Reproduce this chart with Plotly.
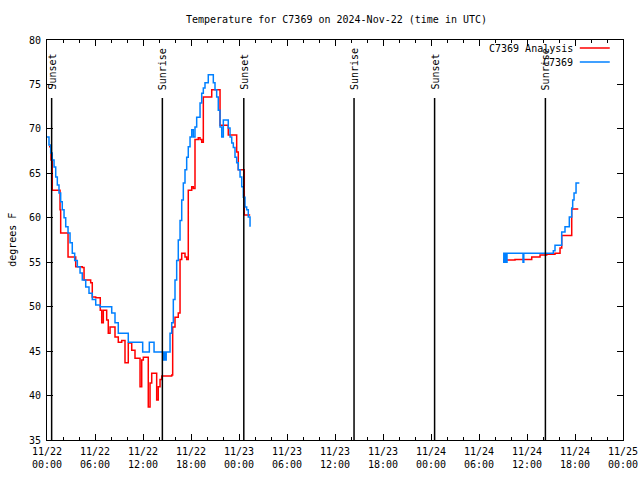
import pandas as pd
import plotly.graph_objects as go

# ---- data (hours since 2024-11-22 00:00 UTC, degrees F) ----
obs_hours_a = [0.0, 0.25, 0.46, 0.66, 0.88, 1.09, 1.29, 1.5, 1.71, 1.91, 2.13, 2.34, 2.63, 2.88,
               3.16, 3.46, 3.79, 4.13, 4.41, 4.84, 5.25, 5.66, 6.09, 6.63, 7.88, 8.09, 8.5, 8.91,
               9.96, 10.16, 11.84, 11.96, 12.63, 12.79, 13.29, 13.38, 14.34, 14.54, 14.7, 14.8,
               14.9, 15.16, 15.38, 15.59, 15.79, 16.0, 16.21, 16.41, 16.63, 16.84, 17.04, 17.25,
               17.46, 17.66, 17.88, 18.09, 18.29, 18.5, 18.71, 19.13, 19.34, 19.54, 19.75, 20.16,
               20.59, 20.79, 21.0, 21.21, 21.41, 21.63, 21.84, 22.04, 22.46, 22.66, 22.88, 23.09,
               23.29, 23.5, 23.71, 23.91, 24.13, 24.34, 24.54, 24.75, 24.96, 25.16, 25.38]
obs_temp_a = [69.1, 68.2, 67.3, 66.5, 65.7, 64.6, 63.7, 62.8, 61.8, 60.9, 60.0, 59.0, 58.3, 57.2,
              56.0, 55.2, 54.5, 53.8, 53.0, 52.2, 51.5, 50.8, 50.2, 50.0, 50.0, 49.3, 48.2, 47.0,
              47.0, 46.0, 46.0, 44.9, 44.9, 46.0, 46.0, 44.9, 44.9, 44.0, 44.9, 44.0,
              44.9, 44.9, 47.0, 48.2, 50.8, 53.0, 55.2, 57.5, 59.7, 62.0, 63.9, 65.4,
              66.8, 68.0, 69.1, 69.9, 69.1, 70.2, 71.3, 72.9, 74.0, 74.6, 75.2, 76.1,
              76.1, 75.2, 74.4, 73.6, 72.1, 70.2, 69.1, 71.0, 71.0, 70.1, 69.1, 68.4,
              67.9, 66.8, 66.2, 65.4, 64.6, 63.5, 62.3, 61.2, 60.9, 60.1, 59.0]

obs_hours_b = [57.0, 57.1, 57.2, 57.3, 57.4, 57.5, 59.5, 59.6, 63.29, 63.5, 64.34, 64.75,
               65.29, 65.59, 65.71, 65.88, 66.13, 66.45]
obs_temp_b = [55.0, 56.0, 55.0, 56.0, 55.0, 56.0, 55.0, 56.0, 56.3, 56.9, 58.4, 59.0,
              60.1, 61.1, 62.0, 62.8, 63.9, 64.0]

ana_hours_a = [0.25, 0.5, 0.66, 1.5, 1.63, 1.71, 2.46, 2.63, 3.38, 3.59, 4.41, 4.63, 5.46, 5.66,
               6.09, 6.66, 6.84, 7.04, 7.46, 7.66, 7.88, 8.5, 8.91, 9.34, 9.75, 10.16, 10.59,
               11.0, 11.63, 11.84, 12.04, 12.66, 12.88, 13.09, 13.5, 13.71, 13.91, 14.13, 14.34,
               15.59, 15.71, 16.0, 16.41, 16.63, 16.84, 17.25, 17.46, 17.66, 18.09, 18.29, 18.5,
               18.91, 19.13, 19.34, 19.54, 20.59, 21.41, 21.63, 22.66, 23.5, 23.71, 23.91, 24.54,
               24.66, 25.4]
ana_temp_a = [68.0, 66.5, 63.1, 63.1, 60.9, 58.3, 58.3, 55.6, 55.6, 54.5, 54.4, 53.0, 52.7, 51.1,
              51.0, 49.6, 48.2, 49.6, 48.5, 47.0, 47.7, 46.6, 46.0, 46.2, 43.7, 45.9, 45.1,
              44.2, 41.0, 44.0, 44.3, 38.7, 41.4, 42.5, 42.5, 39.5, 41.0, 41.8, 42.2,
              42.3, 47.7, 48.8, 49.3, 55.3, 56.0, 55.6, 55.3, 63.1, 63.5, 63.3, 68.8,
              69.0, 68.8, 68.5, 73.6, 74.4, 74.4, 70.4, 69.3, 69.3, 67.4, 65.4, 65.4,
              60.3, 60.3]

ana_hours_b = [57.0, 58.5, 60.59, 61.63, 62.46, 63.5, 64.13, 64.34, 65.38, 65.59, 66.41]
ana_temp_b = [55.25, 55.3, 55.6, 55.8, 55.9, 56.0, 56.6, 58.0, 58.0, 61.0, 61.0]

sun_hours = [0.58, 14.42, 24.6, 38.38, 48.45, 62.3]
sun_labels = ["Sunset", "Sunrise", "Sunset", "Sunrise", "Sunset", "Sunrise"]

tick_hours = list(range(0, 73, 6))
tick_labels = ["11/22<br>00:00", "11/22<br>06:00", "11/22<br>12:00", "11/22<br>18:00",
               "11/23<br>00:00", "11/23<br>06:00", "11/23<br>12:00", "11/23<br>18:00",
               "11/24<br>00:00", "11/24<br>06:00", "11/24<br>12:00", "11/24<br>18:00",
               "11/25<br>00:00"]

base = pd.Timestamp("2024-11-22 00:00")


def to_time(hours):
    return [base + pd.Timedelta(hours=h) for h in hours]


def join(h1, t1, h2, t2):
    gap = (h1[-1] + h2[0]) / 2
    return to_time(h1 + [gap] + h2), t1 + [None] + t2


FONT = "DejaVu Sans Mono"
ana_x, ana_y = join(ana_hours_a, ana_temp_a, ana_hours_b, ana_temp_b)
obs_x, obs_y = join(obs_hours_a, obs_temp_a, obs_hours_b, obs_temp_b)

fig = go.Figure()
fig.add_trace(go.Scatter(x=ana_x, y=ana_y, mode="lines", name="C7369 Analysis",
                         line=dict(color="#ff0000", width=1.5, shape="hv"),
                         connectgaps=False, showlegend=False))
fig.add_trace(go.Scatter(x=obs_x, y=obs_y, mode="lines", name="C7369",
                         line=dict(color="#0080ff", width=1.5, shape="hv"),
                         connectgaps=False, showlegend=False))

shapes = []
annotations = []
for h, lab in zip(sun_hours, sun_labels):
    t = base + pd.Timedelta(hours=h)
    shapes.append(dict(type="line", xref="x", yref="paper", x0=t, x1=t, y0=0, y1=0.855,
                       line=dict(color="black", width=1.5)))
    annotations.append(dict(x=t, y=0.87, xref="x", yref="paper", text=lab, textangle=-90,
                            showarrow=False, xanchor="center", yanchor="bottom",
                            font=dict(family=FONT, size=10, color="black")))

# manual legend (text left of line sample, as in gnuplot)
for i, (name, col) in enumerate([("C7369 Analysis", "#ff0000"), ("C7369", "#0080ff")]):
    yp = 0.98 - i * 0.035
    annotations.append(dict(x=0.917, y=yp, xref="paper", yref="paper", text=name,
                            showarrow=False, xanchor="right", yanchor="middle",
                            font=dict(family=FONT, size=10, color="black")))
    shapes.append(dict(type="line", xref="paper", yref="paper", x0=0.925, x1=0.977,
                       y0=yp, y1=yp, line=dict(color=col, width=1.5)))

# title and y label as annotations for exact placement
annotations.append(dict(x=0.502, y=1.05, xref="paper", yref="paper",
                        text="Temperature for C7369 on 2024-Nov-22 (time in UTC)",
                        showarrow=False, xanchor="center", yanchor="middle",
                        font=dict(family=FONT, size=10, color="black")))
annotations.append(dict(x=-0.061, y=0.5, xref="paper", yref="paper", text="degrees F",
                        textangle=-90, showarrow=False, xanchor="center", yanchor="middle",
                        font=dict(family=FONT, size=10, color="black")))

fig.update_layout(
    width=640, height=480,
    margin=dict(l=47, r=17, t=40, b=40, autoexpand=False),
    paper_bgcolor="white", plot_bgcolor="white",
    font=dict(family=FONT, size=10, color="black"),
    shapes=shapes, annotations=annotations, showlegend=False,
)
fig.update_xaxes(
    range=[base, base + pd.Timedelta(hours=72)], automargin=False,
    tickvals=to_time(tick_hours), ticktext=tick_labels,
    ticks="inside", ticklen=6, tickcolor="black", tickwidth=1,
    showline=True, linecolor="black", linewidth=1, mirror="ticks",
    showgrid=False, zeroline=False, ticklabelstandoff=2,
    minor=dict(dtick=2 * 3600 * 1000, ticks="inside", ticklen=3, tickcolor="black", showgrid=False),
    tickfont=dict(family=FONT, size=10, color="black"),
)
fig.update_yaxes(
    range=[35, 80], dtick=5, tick0=35, automargin=False,
    ticks="inside", ticklen=6, tickcolor="black", tickwidth=1,
    showline=True, linecolor="black", linewidth=1, mirror="ticks",
    showgrid=False, zeroline=False, ticklabelstandoff=3,
    tickfont=dict(family=FONT, size=10, color="black"),
)

fig.write_html("out.html", config={"displayModeBar": False},
               post_script="document.body.style.margin='0';document.body.style.overflow='hidden';")
